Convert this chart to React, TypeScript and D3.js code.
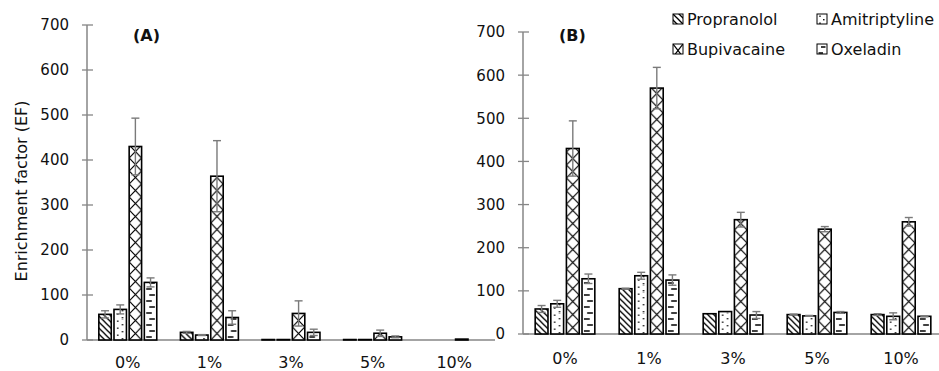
import React, { useEffect, useRef } from 'react';
import * as d3 from 'd3';

const categories = ['0%', '1%', '3%', '5%', '10%'];
const seriesNames = ['Propranolol', 'Amitriptyline', 'Bupivacaine', 'Oxeladin'];
const yTicks = [0, 100, 200, 300, 400, 500, 600, 700];

// panel A values and +/- errors
const propA = [57, 17, 1, 1, 0];
const amitA = [68, 11, 1, 1, 0];
const bupiA = [430, 364, 59, 15, 2];
const oxelA = [128, 50, 17, 7, 0];
const propErrA = [8, 2, 0, 0, 0];
const amitErrA = [10, 1, 0, 0, 0];
const bupiErrA = [63, 79, 28, 7, 0];
const oxelErrA = [10, 15, 7, 2, 0];

// panel B values and +/- errors
const propB = [58, 105, 47, 45, 45];
const amitB = [70, 135, 52, 42, 41];
const bupiB = [430, 570, 265, 243, 260];
const oxelB = [128, 125, 44, 50, 41];
const propErrB = [8, 1, 0, 1, 2];
const amitErrB = [8, 8, 0, 1, 8];
const bupiErrB = [64, 48, 17, 6, 10];
const oxelErrB = [11, 12, 8, 2, 1];

const FONT = 'DejaVu Sans, Verdana, sans-serif';
const AXIS = '#868686';
const ERR = '#7a7a7a';

const App = () => {
    const svgRef = useRef<SVGSVGElement>(null);

    useEffect(() => {
        const svg = d3.select(svgRef.current);
        svg.selectAll('*').remove();
        const defs = svg.append('defs');
        let pid = 0;

        // pattern fill anchored at (ox, oy)
        const makePattern = (kind: number, ox: number, oy: number, w: number) => {
            const id = 'p' + pid++;
            let tw = 6, th = 6;
            if (kind === 1) { tw = w; th = 7; }
            if (kind === 2) { tw = w; th = 13; }
            if (kind === 3) { tw = w; th = 12; }
            const p = defs.append('pattern')
                .attr('id', id)
                .attr('patternUnits', 'userSpaceOnUse')
                .attr('x', ox).attr('y', oy)
                .attr('width', tw).attr('height', th);
            p.append('rect').attr('width', tw).attr('height', th).attr('fill', '#fff');
            if (kind === 0) {
                const segs = [[0, 0, 6, 6], [-1, 5, 1, 7], [5, -1, 7, 1]];
                segs.forEach(s => p.append('line')
                    .attr('x1', s[0]).attr('y1', s[1]).attr('x2', s[2]).attr('y2', s[3])
                    .attr('stroke', '#000').attr('stroke-width', 1.3));
            } else if (kind === 1) {
                p.append('rect').attr('x', w * 0.3 - 0.7).attr('y', 1.5).attr('width', 1.4).attr('height', 1.4).attr('fill', '#000');
                p.append('rect').attr('x', w * 0.68 - 0.7).attr('y', 5).attr('width', 1.4).attr('height', 1.4).attr('fill', '#000');
            } else if (kind === 2) {
                p.append('line').attr('x1', 0).attr('y1', 0).attr('x2', tw).attr('y2', th)
                    .attr('stroke', '#000').attr('stroke-width', 1.2);
                p.append('line').attr('x1', tw).attr('y1', 0).attr('x2', 0).attr('y2', th)
                    .attr('stroke', '#000').attr('stroke-width', 1.2);
            } else {
                p.append('line').attr('x1', w * 0.4).attr('y1', 3).attr('x2', w * 0.85).attr('y2', 3)
                    .attr('stroke', '#000').attr('stroke-width', 1.5);
                p.append('line').attr('x1', w * 0.15).attr('y1', 9).attr('x2', w * 0.6).attr('y2', 9)
                    .attr('stroke', '#000').attr('stroke-width', 1.5);
            }
            return `url(#${id})`;
        };

        const panels = [
            {
                label: '(A)', x0: 87, x1: 495, yTop: 25, yBot: 340, labelX: 133, labelY: 41,
                catY: 368, values: [propA, amitA, bupiA, oxelA], errs: [propErrA, amitErrA, bupiErrA, oxelErrA]
            },
            {
                label: '(B)', x0: 523, x1: 943, yTop: 32, yBot: 334, labelX: 559, labelY: 41,
                catY: 364, values: [propB, amitB, bupiB, oxelB], errs: [propErrB, amitErrB, bupiErrB, oxelErrB]
            }
        ];

        panels.forEach(pn => {
            const x = d3.scaleBand().domain(categories).range([pn.x0, pn.x1]).padding(0);
            const y = d3.scaleLinear().domain([0, 700]).range([pn.yBot, pn.yTop]);
            const g = svg.append('g');

            // y axis
            g.append('line')
                .attr('x1', pn.x0).attr('x2', pn.x0)
                .attr('y1', y(700)).attr('y2', y(0))
                .attr('stroke', AXIS).attr('stroke-width', 1.5);
            g.selectAll('.ytick').data(yTicks).enter().append('line')
                .attr('x1', pn.x0 - 5).attr('x2', pn.x0 + 6)
                .attr('y1', d => y(d)).attr('y2', d => y(d))
                .attr('stroke', AXIS).attr('stroke-width', 1.3);
            g.selectAll('.ylab').data(yTicks).enter().append('text')
                .attr('x', pn.x0 - 18).attr('y', d => y(d))
                .attr('dy', '0.36em')
                .attr('text-anchor', 'end')
                .attr('font-family', FONT).attr('font-size', 15).attr('fill', '#111')
                .text(d => d);

            // x axis
            g.append('line')
                .attr('x1', pn.x0).attr('x2', pn.x1)
                .attr('y1', y(0)).attr('y2', y(0))
                .attr('stroke', AXIS).attr('stroke-width', 1.5);
            g.selectAll('.xlab').data(categories).enter().append('text')
                .attr('x', d => (x(d) as number) + x.bandwidth() / 2)
                .attr('y', pn.catY)
                .attr('text-anchor', 'middle')
                .attr('font-family', FONT).attr('font-size', 16).attr('fill', '#111')
                .text(d => d);

            // bars
            const gw = x.bandwidth() * 0.71;
            categories.forEach((c, ci) => {
                const cx = (x(c) as number) + x.bandwidth() / 2;
                const inner = d3.scaleBand().domain(seriesNames).range([cx - gw / 2, cx + gw / 2]).paddingInner(0.18);
                seriesNames.forEach((s, si) => {
                    const v = pn.values[si][ci];
                    const bx = inner(s) as number;
                    const bw = inner.bandwidth();
                    g.append('rect')
                        .attr('x', bx).attr('y', y(v))
                        .attr('width', bw).attr('height', y(0) - y(v))
                        .attr('fill', makePattern(si, bx, y(0), bw))
                        .attr('stroke', '#000').attr('stroke-width', 1.6);
                });
                seriesNames.forEach((s, si) => {
                    const v = pn.values[si][ci];
                    const e = pn.errs[si][ci];
                    if (!e) return;
                    const mx = (inner(s) as number) + inner.bandwidth() / 2;
                    g.append('line')
                        .attr('x1', mx).attr('x2', mx)
                        .attr('y1', y(v - e)).attr('y2', y(v + e))
                        .attr('stroke', ERR).attr('stroke-width', 1.4);
                    [v - e, v + e].forEach(t => g.append('line')
                        .attr('x1', mx - 4).attr('x2', mx + 4)
                        .attr('y1', y(t)).attr('y2', y(t))
                        .attr('stroke', ERR).attr('stroke-width', 1.4));
                });
            });

            g.append('text')
                .attr('x', pn.labelX).attr('y', pn.labelY)
                .attr('font-family', FONT).attr('font-size', 16).attr('font-weight', 'bold')
                .attr('fill', '#111')
                .text(pn.label);
        });

        // y axis title
        svg.append('text')
            .attr('transform', 'translate(27,191) rotate(-90)')
            .attr('text-anchor', 'middle')
            .attr('font-family', FONT).attr('font-size', 16).attr('fill', '#111')
            .text('Enrichment factor (EF)');

        // legend
        const legX = [673, 817];
        const legY = [19, 49];
        seriesNames.forEach((s, i) => {
            const lx = legX[i % 2];
            const ly = legY[Math.floor(i / 2)];
            svg.append('rect')
                .attr('x', lx).attr('y', ly - 5)
                .attr('width', 10).attr('height', 10)
                .attr('fill', makePattern(i, lx, ly - 5, 10))
                .attr('stroke', '#000').attr('stroke-width', 1);
            svg.append('text')
                .attr('x', lx + 14).attr('y', ly)
                .attr('dy', '0.36em')
                .attr('font-family', FONT).attr('font-size', 16).attr('fill', '#111')
                .text(s);
        });
    }, []);

    return (
        <svg ref={svgRef} width={939} height={371}
            style={{ position: 'absolute', left: 0, top: 0, background: '#fff' }} />
    );
};

export default App;
